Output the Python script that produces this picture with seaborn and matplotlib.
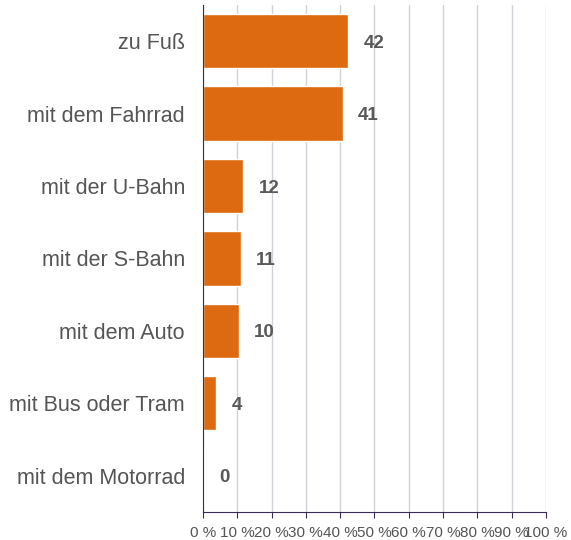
import seaborn as sns, matplotlib.pyplot as plt, numpy as np, pandas as pd
from matplotlib.ticker import FuncFormatter

categories = ['zu Fuß', 'mit dem Fahrrad', 'mit der U-Bahn', 'mit der S-Bahn',
              'mit dem Auto', 'mit Bus oder Tram', 'mit dem Motorrad']
shares = [42.3, 40.8, 11.7, 11.1, 10.5, 3.8, 0.3]
value_labels = ['42', '41', '12', '11', '10', '4', '0']
x_ticks = [0, 10, 20, 30, 40, 50, 60, 70, 80, 90, 100]

df = pd.DataFrame({'Verkehrsmittel': categories, 'Anteil': shares})

sns.set_style('white')
plt.rcParams['font.family'] = ['Liberation Sans', 'DejaVu Sans']

fig = plt.figure(figsize=(5.71, 5.40), dpi=100)
ax = fig.add_axes([0.3555, 0.052, 0.6005, 0.939])

sns.barplot(data=df, x='Anteil', y='Verkehrsmittel', color='#dd6a10',
            saturation=1, width=0.75, ax=ax, zorder=3)

# value labels right of each bar
for i, (v, lab) in enumerate(zip(shares, value_labels)):
    ax.annotate(lab, xy=(v, i), xytext=(11, -1.5), textcoords='offset points',
                ha='left', va='center', fontsize=13.5, fontweight='bold', color='#595959')

ax.set_xlim(0, 100)
ax.set_ylim(6.5, -0.5)
ax.set_xticks(x_ticks)
ax.xaxis.set_major_formatter(FuncFormatter(lambda x, p: f'{int(x)} %'))
ax.grid(axis='x', color='#cfd2d8', linewidth=1, zorder=0)
ax.set_axisbelow(True)
ax.set_xlabel('')
ax.set_ylabel('')

for s in ['top', 'right']:
    ax.spines[s].set_visible(False)
ax.spines['left'].set_color('#3b2b5a')
ax.spines['bottom'].set_color('#3b2b5a')
ax.spines['left'].set_zorder(4)

ax.tick_params(axis='x', direction='out', length=4, color='#3b2b5a', labelsize=11,
               labelcolor='#555555', pad=6, bottom=True)
ax.tick_params(axis='y', length=0, labelsize=15.5, labelcolor='#555555', pad=13)

fig.savefig('out.png', dpi=100)
